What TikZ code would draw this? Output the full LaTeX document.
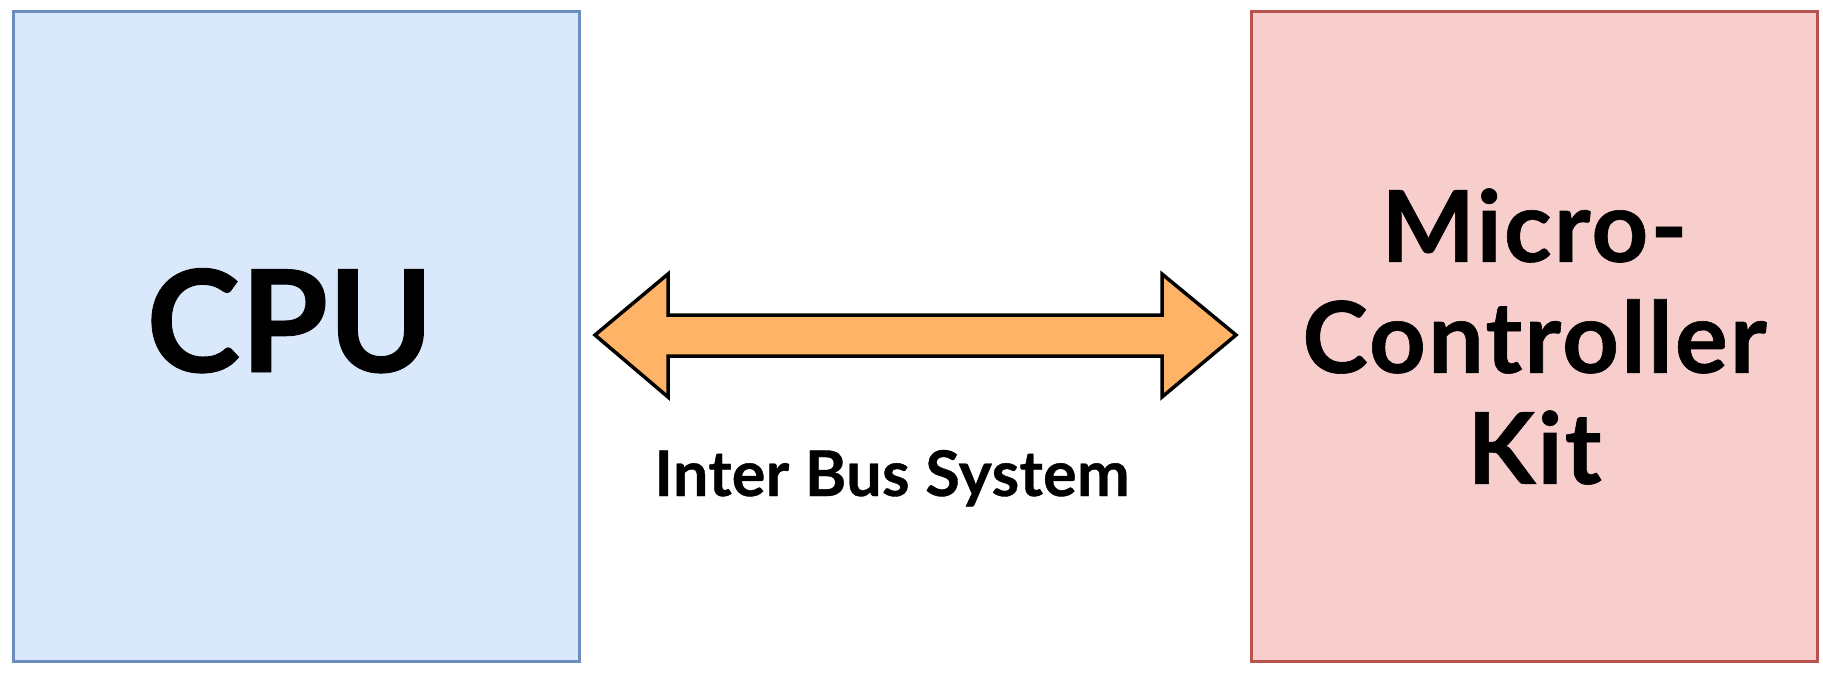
\documentclass[tikz,border=0pt]{standalone}
\usepackage{fontspec}
\setmainfont{Lato}
\definecolor{cpufill}{HTML}{DAE8FC}
\definecolor{cpuline}{HTML}{6C8EBF}
\definecolor{mcfill}{HTML}{F8CECC}
\definecolor{mcline}{HTML}{B85450}
\definecolor{busfill}{HTML}{FFB366}
\newfontfamily\kitfont{Lato Bold}[LetterSpace=2.2, FakeBold=0.6]
\newfontfamily\busfont{Lato Bold}[LetterSpace=0.5, FakeBold=0.6]
\newfontfamily\cpufont{Lato Bold}[FakeBold=0.6]
\tikzset{
  box/.style={draw, line width=3pt, inner sep=0pt, anchor=north west},
  boxtext/.style={align=center, text=black},
  bus/.style={draw=black, fill=busfill, line width=3.5pt, line join=miter},
}
\begin{document}
\begin{tikzpicture}[x=1pt, y=-1pt]
\useasboundingbox (0,0) rectangle (1823,675);
\fill[white] (0,0) rectangle (1823,675);
\node[box, draw=cpuline, fill=cpufill, minimum width=566pt, minimum height=650pt] (cpu) at (12,10) {};
\node[box, draw=mcline, fill=mcfill, minimum width=566pt, minimum height=650pt] (mc) at (1250,10) {};
\node[boxtext, font=\fontsize{142}{160}\cpufont, anchor=base] (cputext) at (290,372) {CPU};
\node[boxtext, font=\fontsize{99}{111}\kitfont] (mctext) at ([yshift=0pt]mc.center) {Micro-\\Controller\\Kit};
\coordinate (L) at (595,335);
\coordinate (R) at (1236,335);
\draw[bus] (L) -- ++(73,-61) -- ++(0,41) -- (1162,315) -- ++(0,-41) -- (R) -- (1162,397) -- ++(0,-41) -- (668,356) -- ++(0,41) -- cycle;
\node[font=\fontsize{63}{70}\busfont, anchor=base] (bustext) at (892,496) {Inter Bus System};
\end{tikzpicture}
\end{document}
